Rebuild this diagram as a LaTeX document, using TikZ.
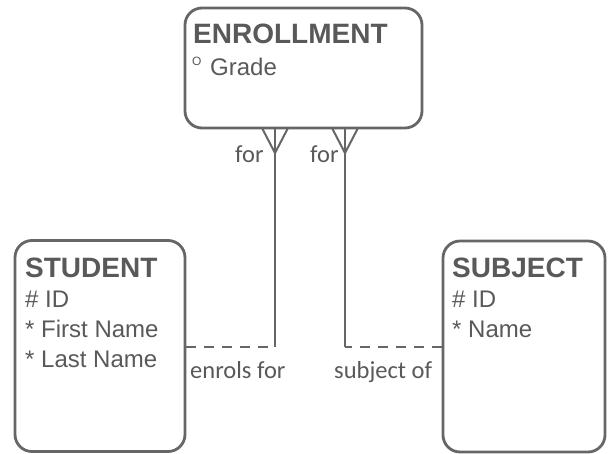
\documentclass[tikz,border=0pt]{standalone}
\usepackage{fontspec}
\setmainfont{Liberation Sans}
\newfontfamily\lblfont{Carlito}
\begin{document}
\begin{tikzpicture}[x=1pt,y=-1pt,
  entity/.style={draw=linegray, line width=2.8pt, rounded corners=17pt, inner sep=0pt},
  title/.style={anchor=base west, inner sep=0pt, text=textgray, font=\fontsize{28}{30}\selectfont\bfseries},
  attr/.style={anchor=base west, inner sep=0pt, text=textgray, font=\fontsize{24}{26}\selectfont},
  rel/.style={anchor=base west, inner sep=0pt, text=textgray, font=\lblfont\fontsize{24.5}{26}\selectfont},
  conn/.style={draw=linegray, line width=2pt},
  dashconn/.style={conn, dash pattern=on 10pt off 8pt}]
\definecolor{linegray}{HTML}{666666}
\definecolor{textgray}{HTML}{595959}
\useasboundingbox (0,0) rectangle (608,453);
% entities
\node[entity, minimum width=237pt, minimum height=120pt] (enr) at (303.5,68) {};
\node[entity, minimum width=170pt, minimum height=211pt] (stu) at (100,346) {};
\node[entity, minimum width=162pt, minimum height=211pt] (sub) at (524,346.5) {};
% texts
\node[title] (enrT) at (193,43) {ENROLLMENT};
\node[anchor=base west, inner sep=0pt, text=textgray, font=\fontsize{12}{12}\selectfont] (enrO) at (192,65) {O};
\node[attr] (enrG) at (210,75) {Grade};
\node[title] (stuT) at (25,277) {STUDENT};
\node[attr] (stu1) at (25,307) {\# ID};
\node[attr] (stu2) at (25,337) {* First Name};
\node[attr] (stu3) at (25,367) {* Last Name};
\node[title] (subT) at (452,277) {SUBJECT};
\node[attr] (sub1) at (452,307) {\# ID};
\node[attr] (sub2) at (452,337) {* Name};
% connector points
\coordinate (c1) at (275,347);
\coordinate (c2) at (345,347);
\coordinate (a1) at (275,153);
\coordinate (a2) at (345,153);
\coordinate (p1l) at (262,128);
\coordinate (p1r) at (288,128);
\coordinate (p2l) at (332,128);
\coordinate (p2r) at (358,128);
% connectors
\draw[conn] (enr.south -| c1) -- (c1);
\draw[dashconn] (stu.east |- c1) -- (c1);
\draw[conn] (p1l) -- (a1) -- (p1r);
\draw[conn] (enr.south -| c2) -- (c2);
\draw[dashconn] (sub.west |- c2) -- (c2);
\draw[conn] (p2l) -- (a2) -- (p2r);
% labels
\node[rel] (for1) at (235,162) {for};
\node[rel] (for2) at (310,162) {for};
\node[rel] (enrols) at (190,378) {enrols for};
\node[rel] (subjof) at (334,378) {subject of};
\end{tikzpicture}
\end{document}
